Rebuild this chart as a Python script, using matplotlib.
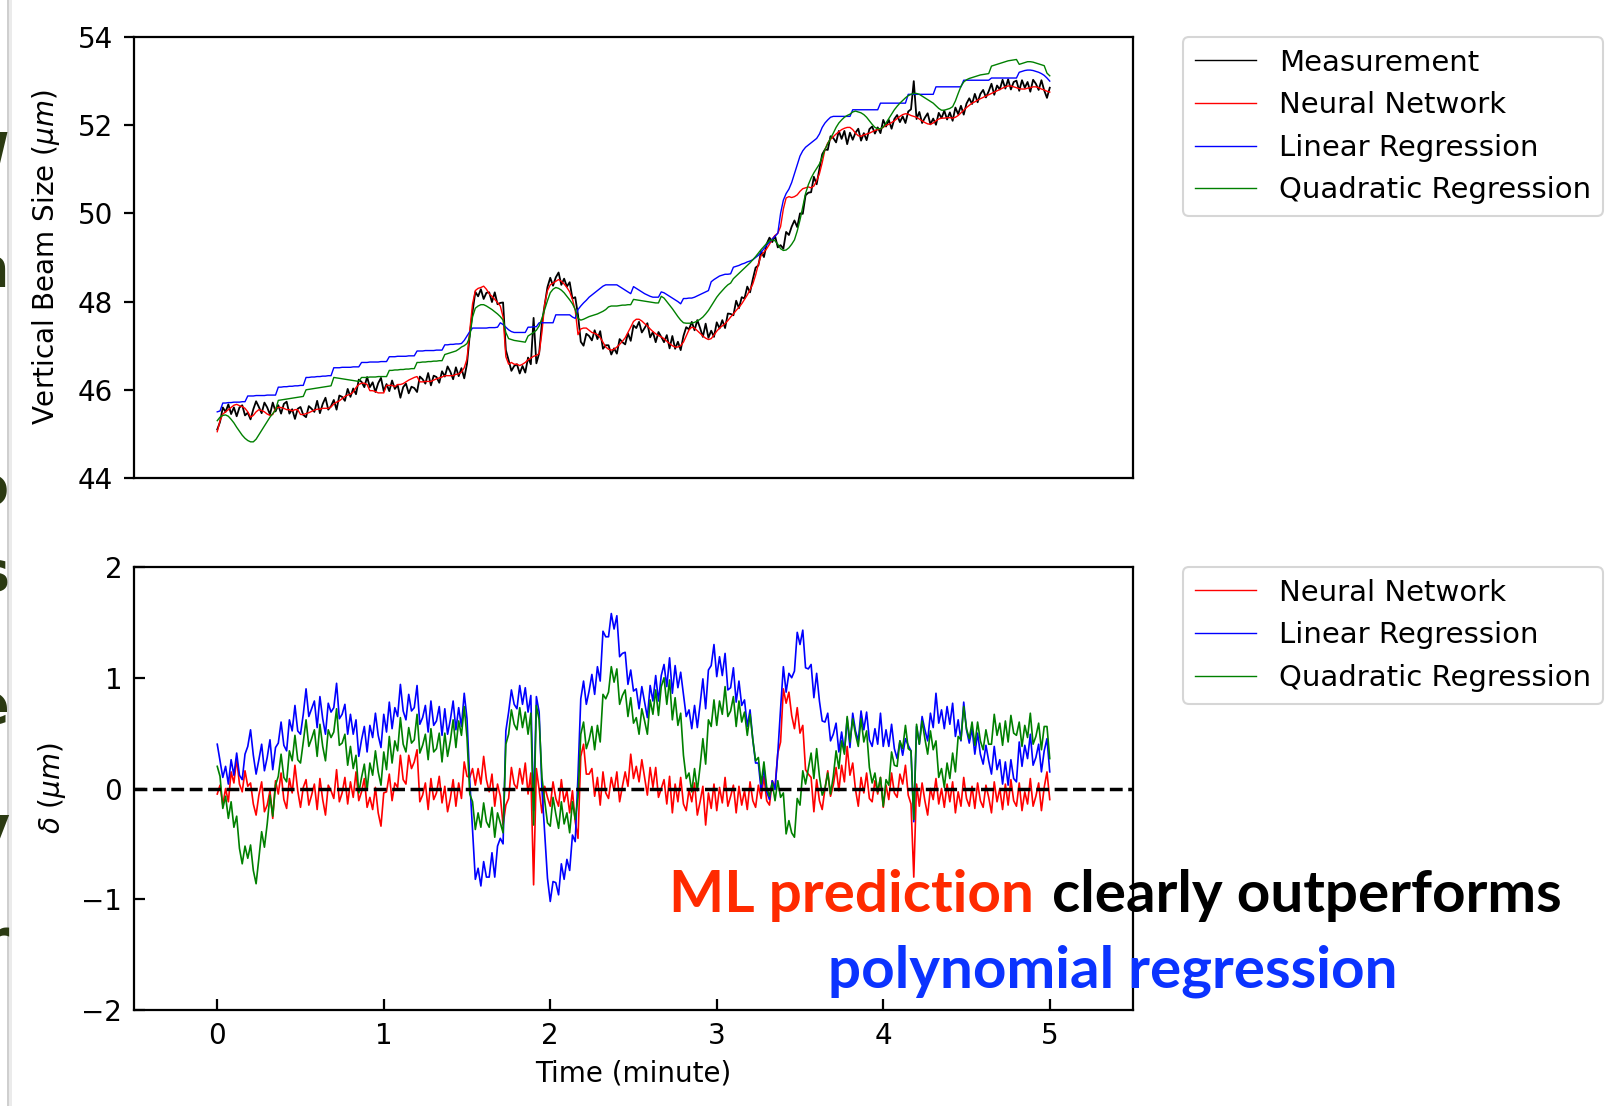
import numpy as np
import matplotlib
matplotlib.use("Agg")
import matplotlib.pyplot as plt
from matplotlib.patches import Rectangle

# one sample per second over five minutes
seconds = np.arange(301)
time_min = seconds / 60.0

measurement = [
    45.10, 45.27, 45.60, 45.50, 45.67, 45.45, 45.60, 45.40, 45.60, 45.65, 45.42, 45.48,
    45.33, 45.56, 45.74, 45.61, 45.47, 45.71, 45.60, 45.44, 45.71, 45.51, 45.65, 45.46,
    45.68, 45.73, 45.46, 45.56, 45.34, 45.57, 45.61, 45.43, 45.38, 45.63, 45.57, 45.50,
    45.75, 45.47, 45.68, 45.82, 45.55, 45.63, 45.77, 45.55, 45.87, 45.84, 45.75, 46.02,
    45.84, 46.03, 45.90, 46.23, 46.18, 46.06, 46.29, 46.06, 46.17, 45.95, 46.15, 46.27,
    45.97, 46.13, 45.97, 46.21, 46.02, 46.11, 45.82, 46.06, 46.14, 45.92, 46.07, 46.04,
    45.95, 46.30, 46.24, 46.14, 46.38, 46.10, 46.32, 46.29, 46.16, 46.42, 46.30, 46.53,
    46.41, 46.24, 46.51, 46.31, 46.49, 46.26, 46.59, 47.25, 47.77, 48.22, 48.12, 48.28,
    48.06, 48.20, 48.21, 47.99, 48.21, 47.94, 47.97, 47.98, 46.90, 46.67, 46.43, 46.54,
    46.58, 46.37, 46.54, 46.39, 46.73, 46.58, 47.63, 46.60, 46.83, 47.52, 47.93, 48.33,
    48.54, 48.36, 48.55, 48.66, 48.38, 48.52, 48.34, 48.44, 48.07, 48.10, 47.70, 47.09,
    47.00, 47.27, 47.22, 47.12, 47.35, 47.15, 47.33, 46.93, 47.01, 47.01, 46.80, 46.94,
    46.82, 47.15, 47.08, 47.03, 47.28, 47.11, 47.46, 47.40, 47.54, 47.30, 47.40, 47.51,
    47.19, 47.31, 47.08, 47.31, 47.20, 47.08, 47.24, 46.94, 47.22, 46.93, 47.09, 46.90,
    47.22, 47.42, 47.37, 47.54, 47.35, 47.58, 47.40, 47.20, 47.50, 47.18, 47.34, 47.20,
    47.53, 47.39, 47.58, 47.40, 47.73, 47.72, 47.69, 48.02, 47.85, 48.10, 48.07, 48.34,
    48.21, 48.51, 48.77, 48.82, 49.14, 49.01, 49.31, 49.45, 49.35, 49.49, 49.23, 49.28,
    49.20, 49.58, 49.51, 49.70, 49.84, 49.69, 50.00, 49.99, 50.41, 50.47, 50.48, 50.83,
    50.66, 51.01, 51.34, 51.45, 51.44, 51.75, 51.71, 51.61, 51.87, 51.69, 51.87, 51.57,
    51.83, 51.67, 51.83, 51.92, 51.65, 51.82, 51.66, 51.91, 51.97, 51.81, 51.95, 51.82,
    52.12, 51.97, 52.12, 51.92, 52.14, 52.23, 52.07, 52.20, 52.05, 52.31, 52.36, 53.00,
    52.14, 52.30, 52.05, 52.17, 52.27, 52.02, 52.15, 52.01, 52.28, 52.16, 52.33, 52.13,
    52.29, 52.10, 52.40, 52.25, 52.44, 52.24, 52.49, 52.61, 52.48, 52.71, 52.52, 52.71,
    52.80, 52.63, 52.77, 52.94, 52.69, 52.90, 52.81, 53.03, 52.83, 53.04, 52.81, 52.98,
    53.01, 52.78, 53.02, 52.85, 52.98, 52.76, 53.03, 52.94, 52.80, 53.02, 52.79, 52.62,
    52.85,
]

neural_network = [
    45.05, 45.30, 45.45, 45.50, 45.55, 45.60, 45.65, 45.67, 45.64, 45.62, 45.58, 45.50,
    45.38, 45.42, 45.50, 45.55, 45.53, 45.50, 45.45, 45.42, 45.44, 45.58, 45.60, 45.60,
    45.58, 45.55, 45.55, 45.52, 45.55, 45.55, 45.44, 45.44, 45.46, 45.48, 45.51, 45.54,
    45.56, 45.56, 45.58, 45.58, 45.58, 45.61, 45.68, 45.72, 45.75, 45.80, 45.85, 45.88,
    45.90, 45.95, 46.05, 46.12, 46.15, 46.15, 46.12, 45.98, 45.98, 45.96, 45.93, 45.93,
    45.93, 46.10, 46.10, 46.10, 46.07, 46.12, 46.12, 46.14, 46.18, 46.22, 46.25, 46.28,
    46.30, 46.18, 46.18, 46.19, 46.19, 46.19, 46.22, 46.25, 46.27, 46.29, 46.32, 46.32,
    46.32, 46.32, 46.35, 46.36, 46.40, 46.50, 46.70, 47.35, 47.95, 48.25, 48.30, 48.32,
    48.35, 48.28, 48.18, 48.12, 48.05, 47.98, 47.90, 47.65, 46.75, 46.58, 46.62, 46.58,
    46.58, 46.55, 46.58, 46.62, 46.68, 46.72, 46.76, 46.78, 46.82, 47.30, 47.95, 48.25,
    48.38, 48.42, 48.46, 48.50, 48.46, 48.40, 48.32, 48.22, 48.05, 47.80, 47.25, 47.38,
    47.40, 47.40, 47.35, 47.30, 47.28, 47.25, 47.18, 47.08, 46.97, 46.92, 46.90, 46.92,
    46.97, 47.03, 47.10, 47.18, 47.30, 47.42, 47.55, 47.60, 47.60, 47.56, 47.50, 47.45,
    47.38, 47.32, 47.27, 47.23, 47.20, 47.16, 47.10, 47.05, 47.00, 46.97, 46.97, 47.00,
    47.08, 47.22, 47.36, 47.42, 47.40, 47.34, 47.28, 47.22, 47.17, 47.14, 47.16, 47.24,
    47.33, 47.40, 47.45, 47.50, 47.57, 47.65, 47.72, 47.80, 47.87, 47.95, 48.05, 48.15,
    48.27, 48.40, 48.60, 48.85, 49.05, 49.12, 49.20, 49.30, 49.42, 49.50, 49.55, 49.70,
    50.10, 50.35, 50.38, 50.36, 50.38, 50.42, 50.50, 50.56, 50.58, 50.60, 50.58, 50.62,
    50.74, 50.90, 51.15, 51.45, 51.60, 51.68, 51.74, 51.80, 51.85, 51.90, 51.93, 51.95,
    51.95, 51.90, 51.82, 51.76, 51.75, 51.78, 51.80, 51.82, 51.85, 51.88, 51.90, 51.92,
    51.95, 52.00, 52.02, 52.06, 52.10, 52.15, 52.20, 52.24, 52.26, 52.25, 52.22, 52.20,
    52.18, 52.14, 52.10, 52.06, 52.03, 52.02, 52.05, 52.10, 52.14, 52.16, 52.16, 52.17,
    52.17, 52.16, 52.18, 52.22, 52.28, 52.34, 52.40, 52.45, 52.50, 52.53, 52.57, 52.60,
    52.63, 52.66, 52.69, 52.72, 52.75, 52.78, 52.81, 52.84, 52.87, 52.89, 52.89, 52.87,
    52.85, 52.83, 52.82, 52.82, 52.84, 52.85, 52.87, 52.87, 52.85, 52.82, 52.80, 52.77,
    52.75,
]

linear_regression = [
    45.50, 45.52, 45.70, 45.70, 45.71, 45.71, 45.72, 45.72, 45.72, 45.73, 45.73, 45.86,
    45.86, 45.86, 45.87, 45.87, 45.87, 45.87, 45.88, 45.88, 45.88, 45.88, 46.06, 46.06,
    46.07, 46.07, 46.08, 46.08, 46.09, 46.09, 46.10, 46.10, 46.28, 46.28, 46.29, 46.29,
    46.30, 46.30, 46.31, 46.31, 46.32, 46.32, 46.50, 46.50, 46.50, 46.51, 46.51, 46.51,
    46.51, 46.52, 46.52, 46.52, 46.62, 46.62, 46.62, 46.63, 46.63, 46.63, 46.63, 46.64,
    46.64, 46.64, 46.75, 46.75, 46.75, 46.76, 46.76, 46.76, 46.76, 46.77, 46.77, 46.77,
    46.88, 46.88, 46.88, 46.89, 46.89, 46.89, 46.89, 46.90, 46.90, 46.90, 47.02, 47.02,
    47.03, 47.03, 47.04, 47.04, 47.05, 47.12, 47.22, 47.32, 47.40, 47.40, 47.40, 47.40,
    47.40, 47.40, 47.41, 47.41, 47.41, 47.42, 47.52, 47.48, 47.42, 47.36, 47.32, 47.30,
    47.30, 47.30, 47.30, 47.30, 47.42, 47.42, 47.43, 47.43, 47.52, 47.52, 47.52, 47.52,
    47.52, 47.52, 47.70, 47.70, 47.70, 47.70, 47.70, 47.70, 47.65, 47.62, 47.82, 47.90,
    47.97, 48.03, 48.10, 48.15, 48.20, 48.25, 48.30, 48.35, 48.38, 48.38, 48.38, 48.38,
    48.38, 48.34, 48.30, 48.26, 48.22, 48.18, 48.34, 48.30, 48.26, 48.22, 48.18, 48.15,
    48.12, 48.10, 48.10, 48.10, 48.22, 48.20, 48.16, 48.12, 48.08, 48.04, 48.00, 47.95,
    48.07, 48.07, 48.08, 48.08, 48.10, 48.13, 48.16, 48.19, 48.22, 48.25, 48.45, 48.50,
    48.54, 48.58, 48.60, 48.62, 48.62, 48.63, 48.78, 48.80, 48.82, 48.85, 48.87, 48.90,
    48.92, 48.95, 49.00, 49.05, 49.12, 49.20, 49.28, 49.35, 49.42, 49.48, 49.55, 50.00,
    50.30, 50.45, 50.55, 50.70, 50.90, 51.10, 51.30, 51.42, 51.50, 51.55, 51.60, 51.65,
    51.70, 51.80, 51.95, 52.05, 52.12, 52.18, 52.20, 52.20, 52.20, 52.20, 52.20, 52.20,
    52.20, 52.35, 52.35, 52.35, 52.35, 52.35, 52.35, 52.35, 52.35, 52.35, 52.35, 52.50,
    52.50, 52.50, 52.50, 52.50, 52.50, 52.50, 52.50, 52.50, 52.50, 52.70, 52.70, 52.70,
    52.70, 52.70, 52.70, 52.70, 52.70, 52.70, 52.70, 52.87, 52.87, 52.87, 52.87, 52.87,
    52.87, 52.87, 52.87, 52.87, 52.87, 53.02, 53.02, 53.02, 53.02, 53.02, 53.02, 53.02,
    53.02, 53.02, 53.02, 53.07, 53.07, 53.07, 53.07, 53.07, 53.07, 53.07, 53.07, 53.07,
    53.07, 53.20, 53.22, 53.24, 53.25, 53.25, 53.24, 53.22, 53.20, 53.17, 53.13, 53.07,
    53.00,
]

quadratic_regression = [
    45.30, 45.38, 45.42, 45.43, 45.40, 45.33, 45.25, 45.15, 45.06, 44.97, 44.90, 44.85,
    44.82, 44.82, 44.88, 44.98, 45.08, 45.18, 45.28, 45.38, 45.46, 45.54, 45.76, 45.77,
    45.78, 45.79, 45.80, 45.81, 45.82, 45.83, 45.84, 45.85, 46.00, 46.01, 46.02, 46.03,
    46.04, 46.05, 46.06, 46.07, 46.08, 46.09, 46.28, 46.27, 46.26, 46.25, 46.24, 46.23,
    46.22, 46.21, 46.20, 46.19, 46.28, 46.28, 46.28, 46.29, 46.29, 46.29, 46.30, 46.30,
    46.30, 46.30, 46.44, 46.44, 46.45, 46.45, 46.46, 46.46, 46.47, 46.47, 46.48, 46.48,
    46.62, 46.62, 46.63, 46.63, 46.64, 46.64, 46.65, 46.65, 46.66, 46.66, 46.80, 46.82,
    46.84, 46.86, 46.88, 46.92, 46.97, 47.00, 47.05, 47.20, 47.65, 47.85, 47.90, 47.93,
    47.93, 47.90, 47.86, 47.82, 47.77, 47.72, 47.66, 47.58, 47.30, 47.16, 47.14, 47.12,
    47.11, 47.10, 47.09, 47.08, 47.22, 47.26, 47.30, 47.35, 47.45, 47.62, 47.82, 48.02,
    48.20, 48.28, 48.32, 48.30, 48.26, 48.20, 48.12, 48.04, 47.95, 47.82, 47.62, 47.58,
    47.60, 47.63, 47.66, 47.68, 47.70, 47.72, 47.75, 47.78, 47.82, 47.88, 47.90, 47.90,
    47.90, 47.91, 47.92, 47.92, 47.93, 47.93, 48.05, 48.04, 48.03, 48.02, 48.01, 48.00,
    47.99, 47.98, 47.97, 47.97, 48.12, 48.08, 48.00, 47.92, 47.84, 47.75, 47.66, 47.58,
    47.52, 47.51, 47.51, 47.51, 47.53, 47.56, 47.60, 47.65, 47.72, 47.80, 47.90, 48.00,
    48.10, 48.18, 48.25, 48.32, 48.38, 48.42, 48.52, 48.58, 48.64, 48.70, 48.76, 48.82,
    48.88, 48.95, 49.02, 49.10, 49.18, 49.25, 49.32, 49.38, 49.40, 49.38, 49.30, 49.20,
    49.16, 49.17, 49.22, 49.30, 49.40, 49.60, 49.85, 50.15, 50.45, 50.65, 50.80, 50.92,
    51.02, 51.12, 51.28, 51.45, 51.58, 51.70, 51.82, 51.95, 52.05, 52.12, 52.18, 52.22,
    52.25, 52.30, 52.32, 52.30, 52.28, 52.24, 52.18, 52.10, 52.02, 51.95, 51.92, 51.92,
    51.96, 52.05, 52.15, 52.25, 52.35, 52.43, 52.50, 52.56, 52.62, 52.67, 52.70, 52.72,
    52.72, 52.70, 52.66, 52.62, 52.58, 52.54, 52.50, 52.44, 52.38, 52.34, 52.34, 52.36,
    52.38, 52.42, 52.55, 52.72, 52.88, 52.98, 53.03, 53.06, 53.08, 53.10, 53.12, 53.14,
    53.15, 53.16, 53.17, 53.34, 53.36, 53.38, 53.40, 53.42, 53.44, 53.46, 53.47, 53.48,
    53.49, 53.38, 53.40, 53.42, 53.44, 53.44, 53.43, 53.41, 53.39, 53.37, 53.35, 53.18,
    53.12,
]

meas = np.array(measurement)
predictions = [
    ("Neural Network", np.array(neural_network), "red"),
    ("Linear Regression", np.array(linear_regression), "blue"),
    ("Quadratic Regression", np.array(quadratic_regression), "green"),
]

W, H = 1613, 1106
fig = plt.figure(figsize=(W / 100, H / 100), dpi=100)
fig.patch.set_facecolor("white")

ax1 = fig.add_axes([134 / W, 1 - 478 / H, 999 / W, 441 / H])
ax2 = fig.add_axes([134 / W, 1 - 1010 / H, 999 / W, 443 / H])

# top: beam size
ax1.plot(time_min, meas, color="black", lw=1.3, label="Measurement")
for name, pred, col in predictions:
    ax1.plot(time_min, pred, color=col, lw=1.0, label=name)

# bottom: prediction error
for name, pred, col in predictions:
    ax2.plot(time_min, pred - meas, color=col, lw=1.2, label=name)
ax2.axhline(0, color="black", ls="--", lw=2.5)

for ax in (ax1, ax2):
    ax.set_xlim(-0.5, 5.5)
    for sp in ax.spines.values():
        sp.set_linewidth(1.6)
    leg = ax.legend(loc="upper left", bbox_to_anchor=(1.05, 1), borderaxespad=0,
                    fontsize=21, handlelength=2.1)
    leg.get_frame().set_linewidth(1.5)
    for line in leg.get_lines():
        line.set_linewidth(1.0)

ax1.tick_params(direction="out", length=7, width=1.6, labelsize=20, pad=8,
                top=False, right=False)
ax2.tick_params(direction="in", length=8, width=1.6, labelsize=20,
                top=False, right=False)
ax2.tick_params(axis="y", pad=8.5)
ax2.tick_params(axis="x", pad=9)

ax1.set_ylim(44, 54)
ax1.set_yticks([44, 46, 48, 50, 52, 54])
ax1.set_xticks([])
ax1.set_ylabel("Vertical Beam Size ($\\mu m$)", fontsize=20)
ax1.yaxis.set_label_coords(-0.072, 0.5)

ax2.set_ylim(-2, 2)
ax2.set_yticks([-2, -1, 0, 1, 2])
ax2.set_xticks([0, 1, 2, 3, 4, 5])
ax2.set_ylabel("$\\delta$ ($\\mu m$)", fontsize=20)
ax2.yaxis.set_label_coords(-0.066, 0.5)
ax2.set_xlabel("Time (minute)", fontsize=20)
ax2.xaxis.set_label_coords(0.5, -0.111)

# slide text peeking in at the left edge, behind a thin shadow
for ch, yc in [("W", 157), ("n", 272), ("o", 490), ("s", 575),
               ("e", 708), ("y", 830), ("r", 943)]:
    fig.text(9 / W, 1 - yc / H, ch, ha="right", va="center", fontsize=40,
             color="#2b3a12", fontweight="bold")
fig.patches.append(Rectangle((7 / W, 0), 2 / W, 1, transform=fig.transFigure,
                             facecolor="#cfcfcf", edgecolor="none"))
fig.patches.append(Rectangle((9 / W, 0), 3 / W, 1, transform=fig.transFigure,
                             facecolor="#ebebeb", edgecolor="none"))

# overlaid comment
tfont = dict(family=["Lato", "DejaVu Sans"], fontweight="bold", fontsize=42)
t1 = fig.text(669 / W, 1 - 912 / H, "ML prediction", color="#ff2a00",
              va="baseline", zorder=10, **tfont)
fig.canvas.draw()
bb = t1.get_window_extent()
fig.text((bb.x1 + 18) / W, 1 - 912 / H, "clearly outperforms", color="black",
         va="baseline", zorder=10, **tfont)
fig.text(828 / W, 1 - 988 / H, "polynomial regression", color="#0b33ff",
         va="baseline", zorder=10, **tfont)

fig.savefig("out.png", dpi=100)
